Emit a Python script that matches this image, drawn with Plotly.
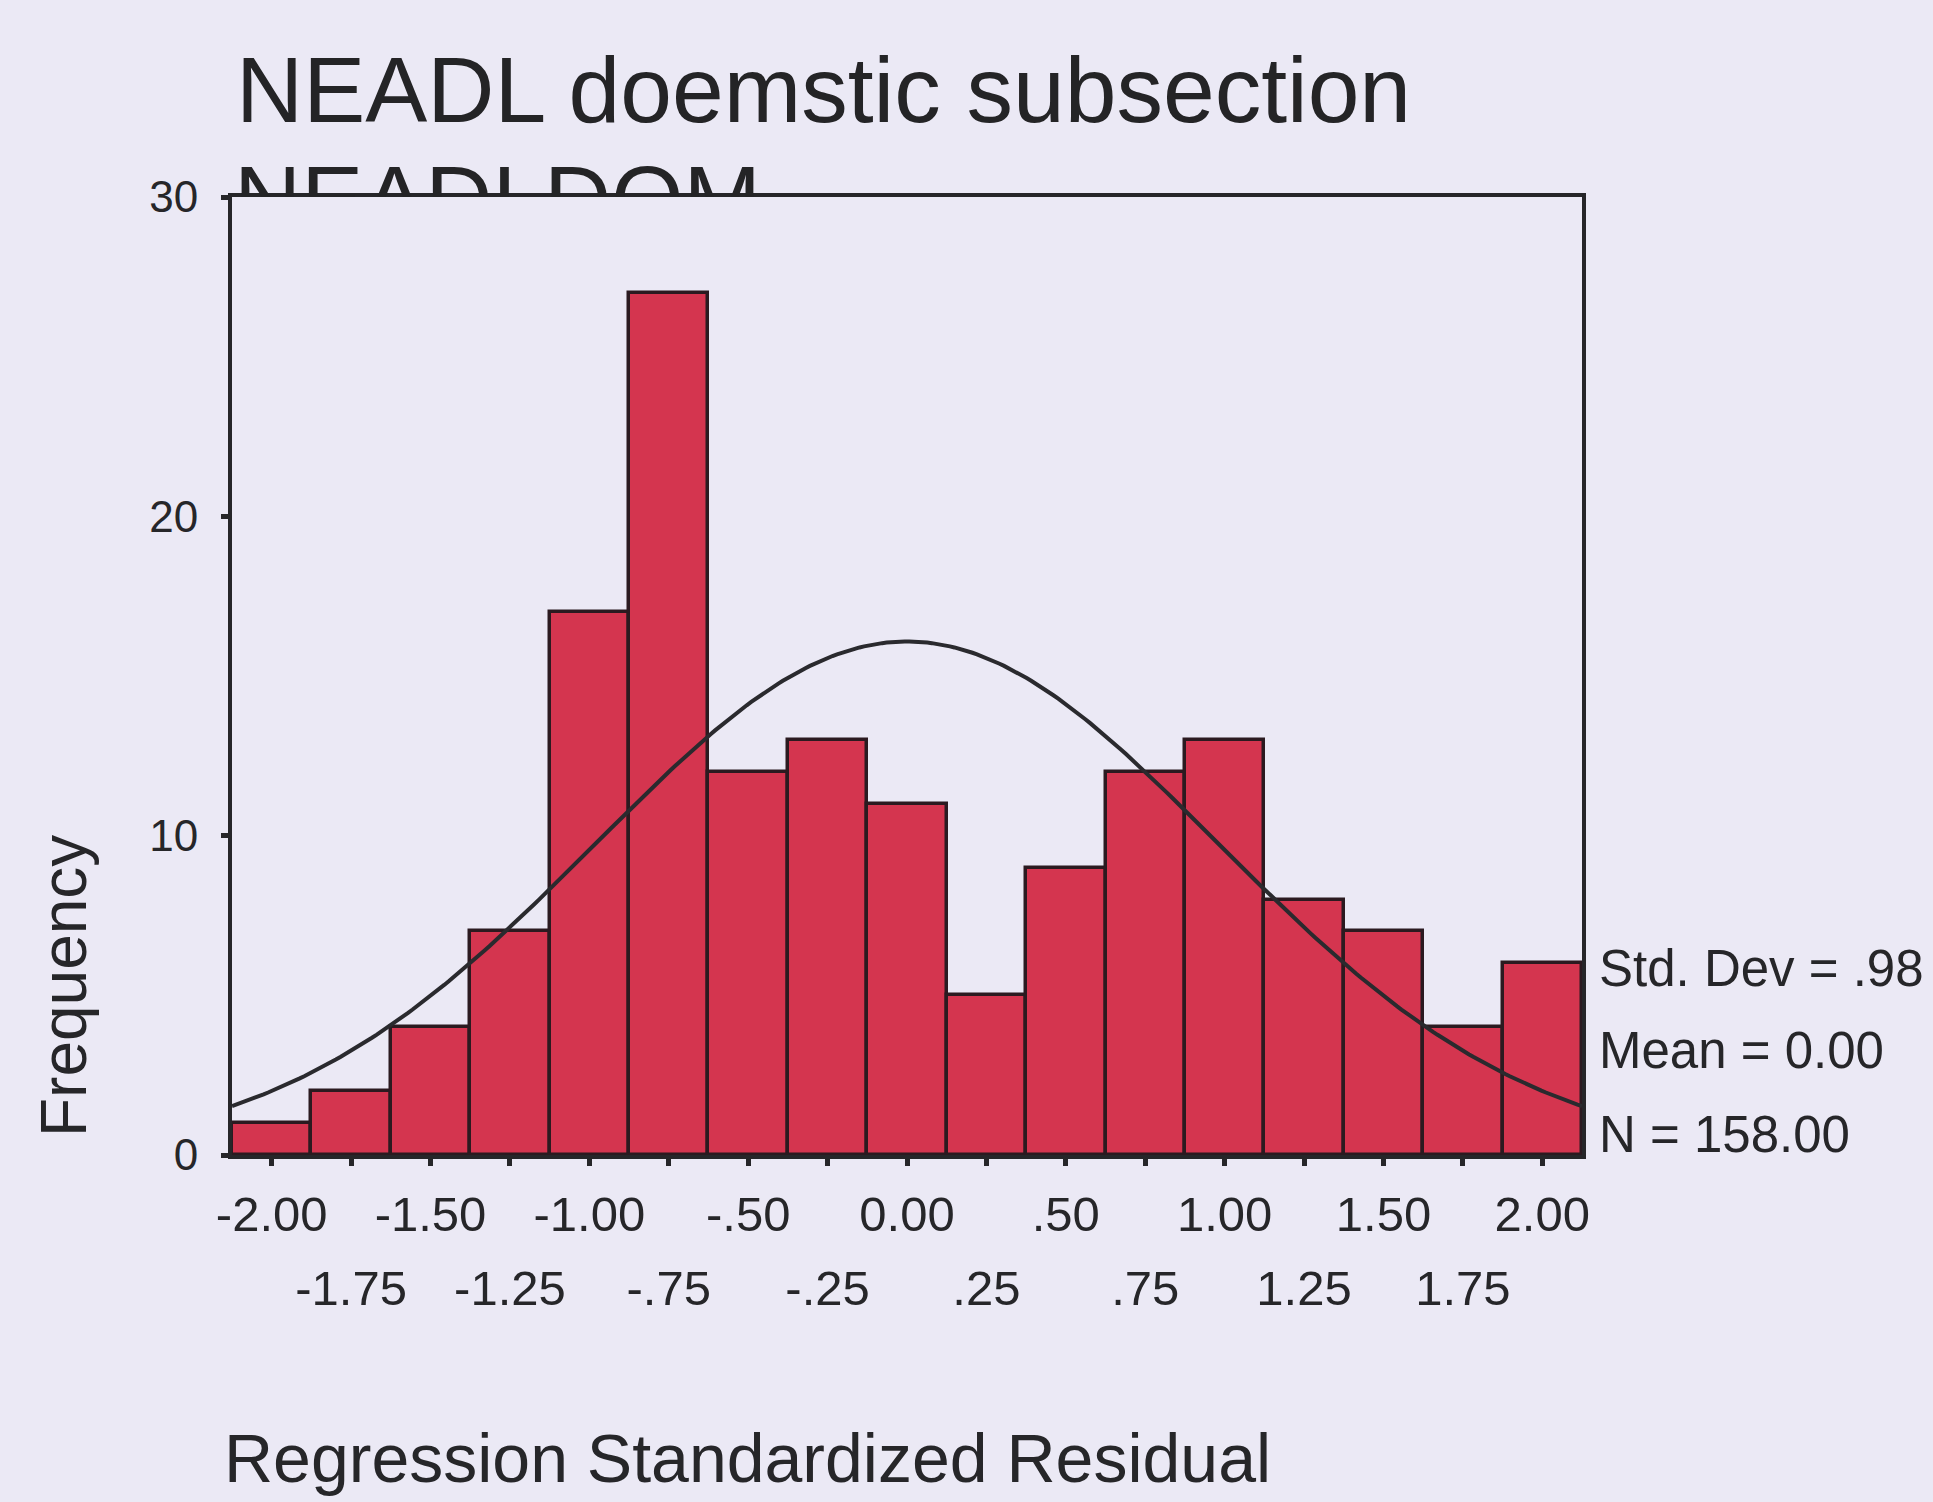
import numpy as np
import plotly.graph_objects as go

# Histogram of regression standardized residuals (bin centres and counts)
bin_centers = [-2.00, -1.75, -1.50, -1.25, -1.00, -0.75, -0.50, -0.25, 0.00,
               0.25, 0.50, 0.75, 1.00, 1.25, 1.50, 1.75, 2.00]
counts = [1, 2, 4, 7, 17, 27, 12, 13, 11, 5, 9, 12, 13, 8, 7, 4, 6]
bin_width = 0.25

# Summary statistics shown beside the chart
std_dev = 0.98
mean = 0.00
n_cases = 158

# Tick labels, alternating between two rows
row1_vals = [-2.00, -1.50, -1.00, -0.50, 0.00, 0.50, 1.00, 1.50, 2.00]
row1_text = ["-2.00", "-1.50", "-1.00", "-.50", "0.00", ".50", "1.00", "1.50", "2.00"]
row2_vals = [-1.75, -1.25, -0.75, -0.25, 0.25, 0.75, 1.25, 1.75]
row2_text = ["-1.75", "-1.25", "-.75", "-.25", ".25", ".75", "1.25", "1.75"]
y_ticks = [0, 10, 20, 30]

title_line1 = "NEADL doemstic subsection"
title_line2 = "NEADLDOM"
x_title = "Regression Standardized Residual"
y_title = "Frequency"

W, H = 1933, 1502
L, R, B = 232, 1582, 1155          # plot frame in page pixels
T = 197
MT = 15                            # top margin of the paper area
BG = "#ebe9f5"
INK = "#262629"
BAR = "#d4354f"
FONT = "Liberation Sans, Arial, sans-serif"

x_lo = bin_centers[0] - bin_width / 2
x_hi = bin_centers[-1] + bin_width / 2

# Fitted normal curve scaled to the histogram
xs = np.linspace(x_lo, x_hi, 300)
ys = n_cases * bin_width * np.exp(-0.5 * ((xs - mean) / std_dev) ** 2) / (std_dev * np.sqrt(2 * np.pi))

plot_h = B - MT
dom_top = (B - T) / plot_h

def py(v):
    """page y pixel -> paper fraction"""
    return (B - v) / plot_h

def px(v):
    """page x pixel -> paper fraction"""
    return (v - L) / (R - L)

fig = go.Figure()
fig.add_trace(go.Bar(
    x=bin_centers, y=counts, width=bin_width,
    marker=dict(color=BAR, line=dict(color="#2b1a20", width=3.5)),
    xaxis="x", yaxis="y", showlegend=False, hoverinfo="x+y",
))
fig.add_trace(go.Scatter(
    x=xs, y=ys, mode="lines", line=dict(color="#2a2a2e", width=4),
    xaxis="x", yaxis="y", showlegend=False, hoverinfo="skip",
))
# carrier for the second row of x tick labels
fig.add_trace(go.Scatter(
    x=row2_vals, y=[0] * len(row2_vals), mode="none",
    xaxis="x3", yaxis="y", showlegend=False, hoverinfo="skip",
))

# Title block above the frame; the second line runs under the frame edge and is clipped
title_font = dict(family=FONT, size=93, color="#242426")
fig.add_trace(go.Scatter(
    x=[236], y=[99], mode="text", text=[title_line1], textposition="middle right",
    textfont=title_font, xaxis="x2", yaxis="y2",
    showlegend=False, hoverinfo="skip", cliponaxis=True,
))
fig.add_trace(go.Scatter(
    x=[234], y=[161], mode="text", text=[title_line2], textposition="bottom right",
    textfont=title_font, xaxis="x2", yaxis="y2",
    showlegend=False, hoverinfo="skip", cliponaxis=True,
))

axis_common = dict(showgrid=False, zeroline=False, automargin=False)
fig.update_layout(
    width=W, height=H,
    margin=dict(l=L, r=W - R, t=MT, b=H - B, pad=0, autoexpand=False),
    paper_bgcolor=BG, plot_bgcolor=BG,
    font=dict(family=FONT, color=INK),
    bargap=0,
    xaxis=dict(
        domain=[0, 1], anchor="y", range=[x_lo, x_hi],
        tickmode="array", tickvals=bin_centers,
        ticktext=[row1_text[row1_vals.index(v)] if v in row1_vals else "" for v in bin_centers],
        ticks="outside", ticklen=7, tickwidth=5, tickcolor=INK,
        showline=True, mirror=True, linecolor=INK, linewidth=4,
        tickfont=dict(size=49, color=INK), ticklabelstandoff=6,
        **axis_common,
    ),
    xaxis3=dict(
        overlaying="x", anchor="y", side="bottom", range=[x_lo, x_hi],
        tickmode="array", tickvals=row2_vals, ticktext=row2_text,
        ticks="", showline=False,
        tickfont=dict(size=49, color=INK), ticklabelstandoff=100,
        **axis_common,
    ),
    yaxis=dict(
        domain=[0, dom_top], anchor="x", range=[0, 30],
        tickmode="array", tickvals=y_ticks,
        ticks="outside", ticklen=7, tickwidth=5, tickcolor=INK,
        showline=True, mirror=True, linecolor=INK, linewidth=4,
        tickfont=dict(size=44, color=INK), ticklabelstandoff=14,
        **axis_common,
    ),
    xaxis2=dict(domain=[0, 1], anchor="y2", range=[L, R], visible=False),
    yaxis2=dict(domain=[dom_top, 1], anchor="x2", range=[T, MT], visible=False),
)

stat_lines = [
    (f"Std. Dev = {std_dev:.2f}".replace("0.", "."), 968),
    (f"Mean = {mean:.2f}", 1050),
    (f"N = {n_cases:.2f}", 1134),
]
for txt, yy in stat_lines:
    fig.add_annotation(
        text=txt, xref="paper", yref="paper",
        x=px(1597), y=py(yy),
        xanchor="left", yanchor="middle", showarrow=False,
        font=dict(size=51, color=INK, family=FONT),
    )

fig.add_annotation(
    text=x_title, xref="paper", yref="paper",
    x=px(222), y=py(1458),
    xanchor="left", yanchor="middle", showarrow=False,
    font=dict(size=68, color=INK, family=FONT),
)
fig.add_annotation(
    text=y_title, xref="paper", yref="paper",
    x=px(64), y=py(986),
    xanchor="center", yanchor="middle", textangle=-90, showarrow=False,
    font=dict(size=64, color=INK, family=FONT),
)

fig.write_html("out.html")
